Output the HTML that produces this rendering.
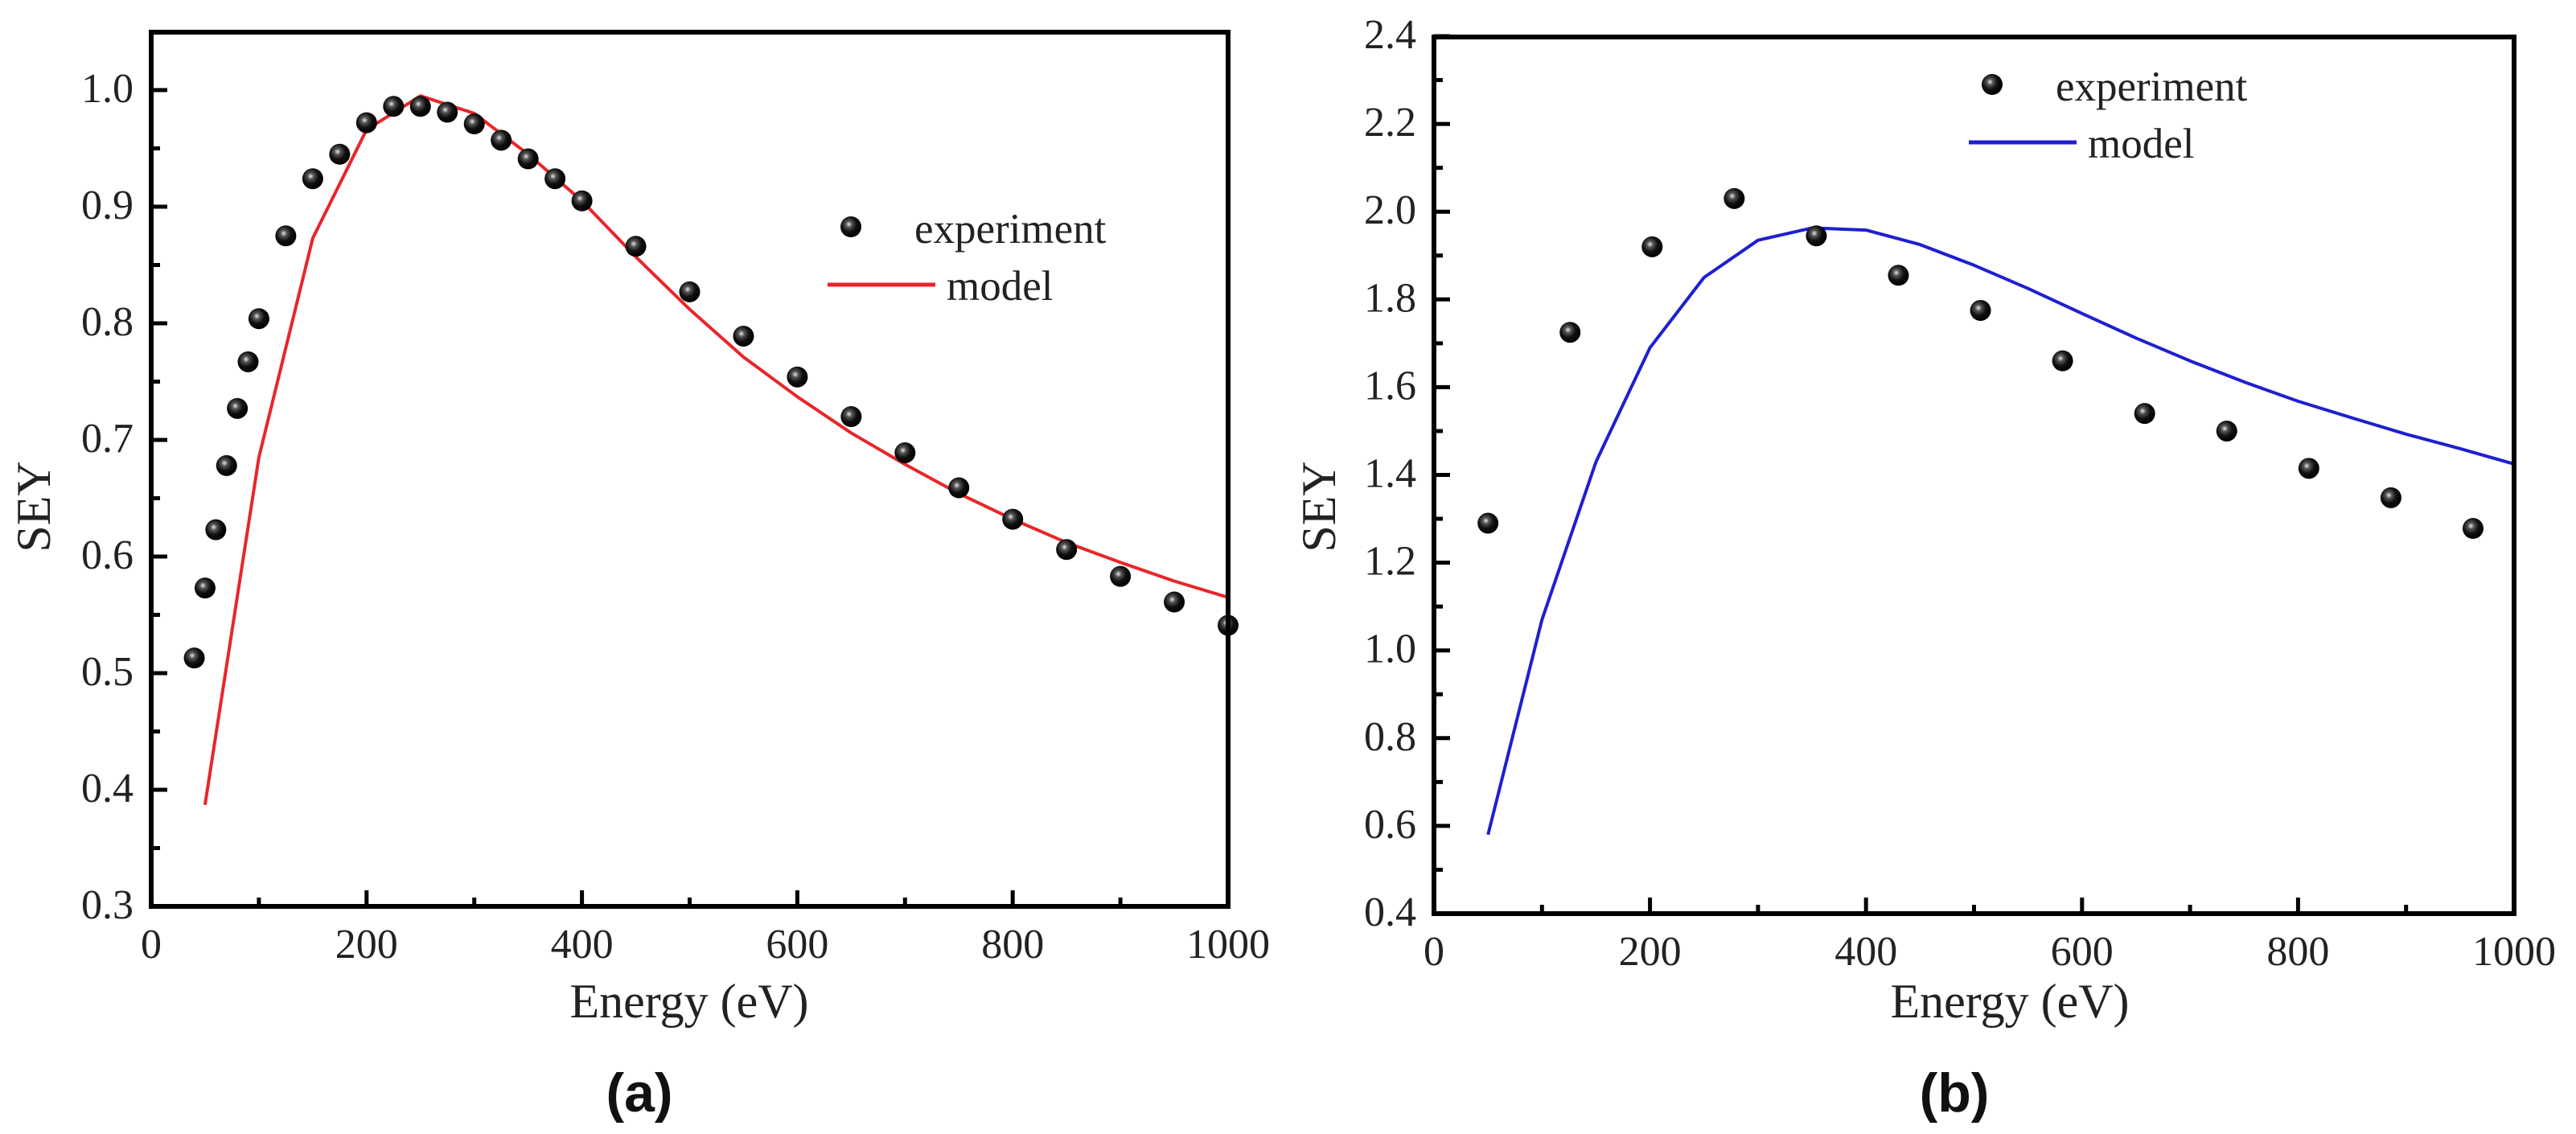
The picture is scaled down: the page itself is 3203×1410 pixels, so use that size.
<!DOCTYPE html>
<html><head><meta charset="utf-8"><style>
html,body{margin:0;padding:0;background:#fff;}
svg{display:block;}
text{font-family:"Liberation Serif",serif;fill:#222;}
.tick{font-size:52px;}
.title{font-size:60px;}
.leg{font-size:53px;}
.cap{font-family:"Liberation Sans",sans-serif;font-weight:bold;font-size:68px;fill:#111;}
</style></head><body>
<svg id="fig" width="3203" height="1410" viewBox="0 0 3203 1410" xmlns="http://www.w3.org/2000/svg">
<defs>
<radialGradient id="ball" cx="0.4" cy="0.38" r="0.6">
<stop offset="0" stop-color="#e8e8e8"/>
<stop offset="0.25" stop-color="#555"/>
<stop offset="0.6" stop-color="#111"/>
<stop offset="1" stop-color="#000"/>
</radialGradient>
</defs>
</svg>
<script>
// Panel (a) data
const aExpX = [40,50,60,70,80,90,100,125,150,175,200,225,250,275,300,325,350,375,400,450,500,550,600,650,700,750,800,850,900,950,1000];
const aExpY = [0.513,0.573,0.623,0.678,0.727,0.767,0.804,0.875,0.924,0.945,0.972,0.986,0.986,0.981,0.971,0.957,0.941,0.924,0.905,0.866,0.827,0.789,0.754,0.720,0.689,0.659,0.632,0.606,0.583,0.561,0.541];
const aModX = [50,100,150,200,250,300,350,400,450,500,550,600,650,700,750,800,850,900,950,1000];
const aModY = [0.387,0.685,0.873,0.966,0.995,0.980,0.945,0.905,0.857,0.812,0.771,0.737,0.706,0.679,0.654,0.632,0.612,0.595,0.579,0.565];
const aYTicks = ["0.3","0.4","0.5","0.6","0.7","0.8","0.9","1.0"];
// Panel (b) data
const bExpX = [50,126,202,278,354,430,506,582,658,734,810,886,962];
const bExpY = [1.29,1.725,1.92,2.03,1.945,1.855,1.775,1.66,1.54,1.50,1.415,1.348,1.278];
const bModX = [50,100,150,200,250,300,350,400,450,500,550,600,650,700,750,800,850,900,950,1000];
const bModY = [0.58,1.07,1.43,1.69,1.85,1.935,1.963,1.958,1.925,1.878,1.825,1.768,1.712,1.66,1.612,1.568,1.53,1.493,1.46,1.425];
const bYTicks = ["0.4","0.6","0.8","1.0","1.2","1.4","1.6","1.8","2.0","2.2","2.4"];
const xTicks = ["0","200","400","600","800","1000"];

const NS = "http://www.w3.org/2000/svg";
const svg = document.getElementById('fig');
function mk(tag, attrs, parent, txt){
  const e = document.createElementNS(NS, tag);
  for (const k in attrs) e.setAttribute(k, attrs[k]);
  if (txt !== undefined) e.textContent = txt;
  (parent || svg).appendChild(e);
  return e;
}

function panel(cfg){
  const g = mk('g', {});
  
  
  const X = v => cfg.x0 + (v - 0) / 1000 * (cfg.x1 - cfg.x0);
  const Y = v => cfg.yb - (v - cfg.ymin) / (cfg.ymax - cfg.ymin) * (cfg.yb - cfg.yt);
  const ytop = cfg.yTop;
  const pts = cfg.modX.map((x, i) => X(x).toFixed(1) + ',' + Y(cfg.modY[i]).toFixed(1)).join(' ');
  const line = mk('polyline', {points: pts, fill: 'none', stroke: cfg.color, 'stroke-width': 4, 'stroke-linejoin': 'round'}, g);
  
  
  cfg.expX.forEach((x, i) => {
    const c = mk('circle', {cx: X(x), cy: Y(cfg.expY[i]), r: 13, fill: 'url(#ball)'}, g);
    
    
  });
  const fr = mk('rect', {x: cfg.x0, y: ytop, width: cfg.x1 - cfg.x0, height: cfg.yb - ytop, fill: 'none', stroke: '#000', 'stroke-width': 6}, g);
  
  
  for (let v = 0; v <= 1000; v += 100){
    const major = v % 200 === 0;
    mk('line', {x1: X(v), x2: X(v), y1: cfg.yb, y2: cfg.yb - (major ? 20 : 11), stroke: '#000', 'stroke-width': 5}, g);
  }
  xTicks.forEach(t => {
    const tx = mk('text', {x: X(+t), y: cfg.yb + 64, 'text-anchor': 'middle', class: 'tick'}, g, t);
    
    
  });
  const step = cfg.yStep;
  for (let k = 0; cfg.ymin + k * step / 2 <= cfg.ymax + 1e-9; k++){
    const v = cfg.ymin + k * step / 2;
    const major = k % 2 === 0;
    mk('line', {x1: cfg.x0, x2: cfg.x0 + (major ? 20 : 11), y1: Y(v), y2: Y(v), stroke: '#000', 'stroke-width': 5}, g);
  }
  cfg.yTicks.forEach(t => {
    const ty = mk('text', {x: cfg.x0 - 22, y: Y(+t) + 15, 'text-anchor': 'end', class: 'tick'}, g, t);
    
    
  });
  const xt = mk('text', {x: cfg.xTitleX, y: 1265, 'text-anchor': 'middle', class: 'title'}, g, 'Energy (eV)');
  
  
  const yt = mk('text', {x: 0, y: 0, 'text-anchor': 'middle', class: 'title', transform: 'translate(' + cfg.yTitleX + ',630) rotate(-90)'}, g, 'SEY');
  
  
  const cap = mk('text', {x: cfg.capX, y: 1382, 'text-anchor': 'middle', class: 'cap'}, g, cfg.cap);
  
  
  const lg = mk('g', {}, g);
  
  
  const lm = mk('circle', {cx: cfg.legX, cy: cfg.legY, r: 13, fill: 'url(#ball)'}, lg);
  
  
  const le = mk('text', {x: cfg.legX + 79, y: cfg.legY + 20, class: 'leg'}, lg, 'experiment');
  
  
  const ll = mk('line', {x1: cfg.legX - 29, x2: cfg.legX + 105, y1: cfg.legY + 72, y2: cfg.legY + 72, stroke: cfg.color, 'stroke-width': 5}, lg);
  
  
  const lt = mk('text', {x: cfg.legX + 119, y: cfg.legY + 91, class: 'leg'}, lg, 'model');
  
  
}

panel({id: 'panel-a', x0: 188, x1: 1527, yb: 1127, yt: 112, ymin: 0.3, ymax: 1.0, yTop: 40, yStep: 0.1,
  expX: aExpX, expY: aExpY, modX: aModX, modY: aModY, yTicks: aYTicks, color: '#e8262a',
  xTitleX: 857, yTitleX: 62, capX: 795, cap: '(a)', legX: 1058, legY: 282});
panel({id: 'panel-b', x0: 1783, x1: 3126, yb: 1136, yt: 45, ymin: 0.4, ymax: 2.4, yTop: 46, yStep: 0.2,
  expX: bExpX, expY: bExpY, modX: bModX, modY: bModY, yTicks: bYTicks, color: '#1f1fd0',
  xTitleX: 2499, yTitleX: 1660, capX: 2430, cap: '(b)', legX: 2477, legY: 105});
</script>
</body></html>
